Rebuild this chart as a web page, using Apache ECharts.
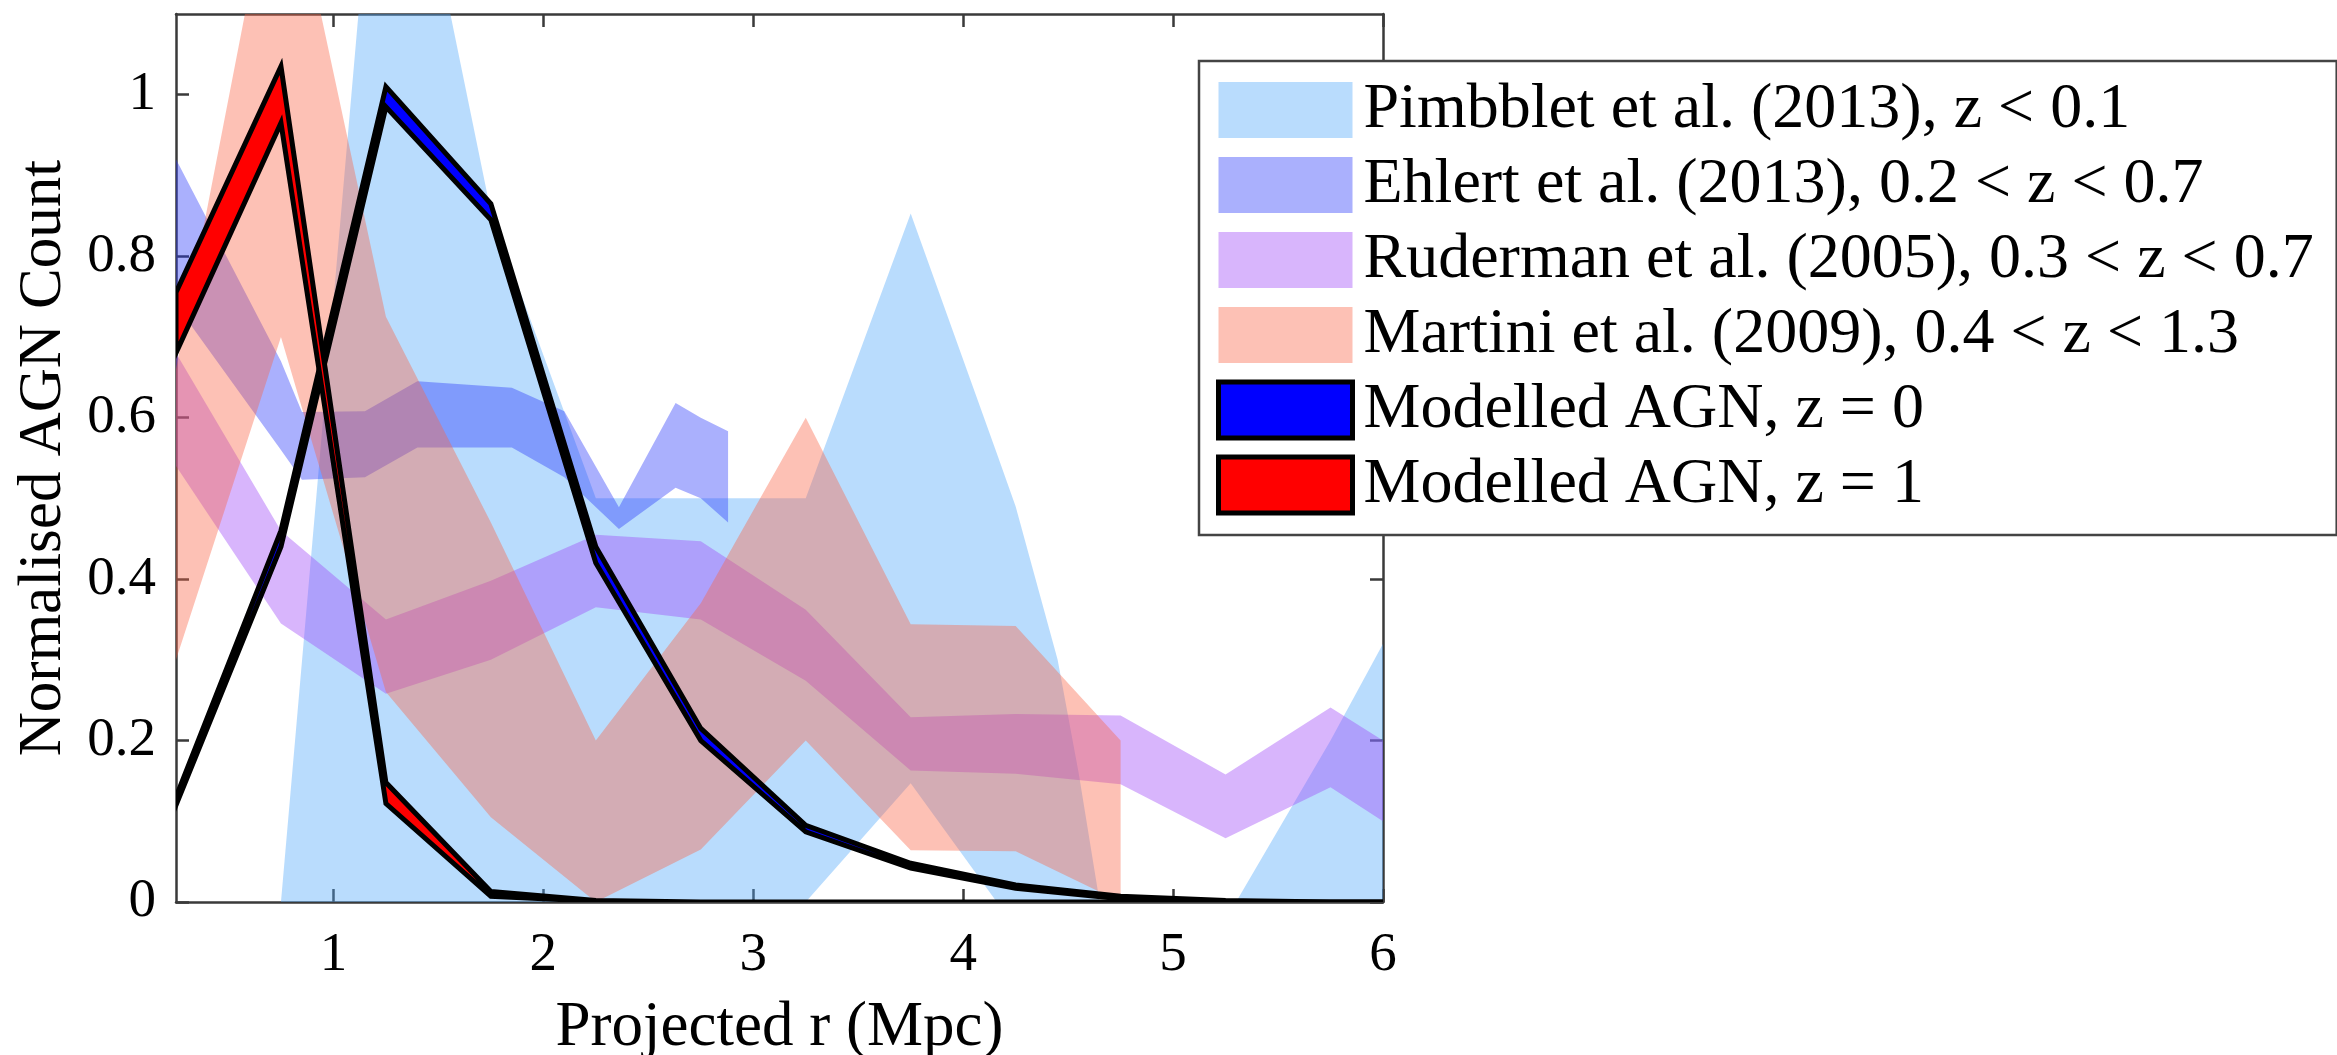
<!DOCTYPE html>
<html>
<head>
<meta charset="utf-8">
<script src="https://cdn.jsdelivr.net/npm/echarts@6/dist/echarts.min.js"></script>
<style>
  html, body { margin: 0; padding: 0; background: #ffffff; font-family: 'Liberation Serif', serif; }
  #chart { width: 2337px; height: 1055px; }
</style>
</head>
<body>
<div id="chart"></div>
<script>
// Projected radius (Mpc) with lower / upper envelopes of the normalised AGN count.

// Pimbblet et al. (2013), z < 0.1
const pimbbletR    = [0.75, 1.25, 1.75, 2.25, 2.75, 3.25, 3.75, 4.16, 4.25, 4.45, 4.55, 4.65, 5.3, 5.75, 6.0];
const pimbbletLow  = [0,    0,    0,    0,    0,    0,    0.147, 0,   0,    0,    0,    0,    0,   0,    0];
const pimbbletHigh = [0,    1.49, 0.855, 0.5, 0.5,  0.5,  0.853, 0.556, 0.49, 0.30, 0.16, 0,   0,   0.2,  0.32];

// Ehlert et al. (2013), 0.2 < z < 0.7
const ehlertR    = [0.25, 0.75, 0.85, 1.15, 1.4, 1.85, 2.1, 2.36, 2.63, 2.75, 2.88];
const ehlertLow  = [0.74, 0.56, 0.523, 0.526, 0.563, 0.563, 0.526, 0.462, 0.513, 0.50, 0.47];
const ehlertHigh = [0.92, 0.67, 0.607, 0.608, 0.645, 0.637, 0.608, 0.489, 0.618, 0.60, 0.583];

// Ruderman et al. (2005), 0.3 < z < 0.7
const rudermanR    = [0.25, 0.75, 1.25, 1.75, 2.25, 2.75, 3.25, 3.75, 4.25, 4.75, 5.25, 5.75, 6.0];
const rudermanLow  = [0.54, 0.345, 0.258, 0.30, 0.365, 0.35, 0.274, 0.163, 0.159, 0.146, 0.079, 0.142, 0.10];
const rudermanHigh = [0.68, 0.46, 0.35, 0.398, 0.455, 0.447, 0.362, 0.229, 0.233, 0.231, 0.158, 0.241, 0.20];

// Martini et al. (2009), 0.4 < z < 1.3
const martiniR    = [0.25, 0.75, 1.25, 1.75, 2.25, 2.75, 3.25, 3.75, 4.25, 4.75];
const martiniLow  = [0.30, 0.70, 0.26, 0.105, 0.0, 0.065, 0.20, 0.064, 0.063, 0.0];
const martiniHigh = [0.66, 1.33, 0.725, 0.47, 0.20, 0.37, 0.60, 0.344, 0.342, 0.20];

// Modelled AGN, z = 0
const modelR      = [0.25, 0.75, 1.25, 1.75, 2.25, 2.75, 3.25, 3.75, 4.25, 4.75, 5.25, 5.75, 6.0];
const modelZ0Low  = [0.12, 0.44, 0.985, 0.845, 0.42, 0.20, 0.087, 0.042, 0.017, 0.004, 0.001, 0, 0];
const modelZ0High = [0.13, 0.46, 1.01, 0.865, 0.44, 0.215, 0.095, 0.048, 0.021, 0.007, 0.002, 0, 0];

// Modelled AGN, z = 1
const modelZ1Low  = [0.68, 0.965, 0.122, 0.007, 0.001, 0, 0, 0, 0, 0, 0, 0, 0];
const modelZ1High = [0.755, 1.035, 0.148, 0.013, 0.002, 0, 0, 0, 0, 0, 0, 0, 0];

// Axis ticks
const xTicks = [1, 2, 3, 4, 5, 6];
const yTicks = [0, 0.2, 0.4, 0.6, 0.8, 1];

const FONT = 'Liberation Serif';
const AXIS_COLOR = '#3a3a3a';
const TEXT_COLOR = '#000';

// A shaded envelope: upper edge left-to-right, then lower edge back.
function band(name, xs, lo, hi, fill, stroke, lineWidth, z) {
  return {
    type: 'custom',
    name: name,
    coordinateSystem: 'cartesian2d',
    clip: true,
    z: z,
    silent: true,
    itemStyle: { color: fill },
    data: [[xs[0], lo[0]]],
    renderItem: function (params, api) {
      const pts = [];
      for (let i = 0; i < xs.length; i++) pts.push(api.coord([xs[i], hi[i]]));
      for (let i = xs.length - 1; i >= 0; i--) pts.push(api.coord([xs[i], lo[i]]));
      return {
        type: 'polygon',
        shape: { points: pts },
        style: {
          fill: fill,
          stroke: stroke || null,
          lineWidth: stroke ? lineWidth : 0,
          lineJoin: 'miter'
        }
      };
    }
  };
}

const names = [
  'Pimbblet et al. (2013), z < 0.1',
  'Ehlert et al. (2013), 0.2 < z < 0.7',
  'Ruderman et al. (2005), 0.3 < z < 0.7',
  'Martini et al. (2009), 0.4 < z < 1.3',
  'Modelled AGN, z = 0',
  'Modelled AGN, z = 1'
];

const chart = echarts.init(document.getElementById('chart'), null, { renderer: 'canvas' });

const tickLabel = { fontFamily: FONT, fontSize: 55, color: TEXT_COLOR };

chart.setOption({
  animation: false,
  backgroundColor: '#ffffff',
  textStyle: { fontFamily: FONT },
  grid: { left: 176, right: 954, top: 14, bottom: 153, containLabel: false, outerBoundsMode: 'none' },
  xAxis: [
    {
      type: 'value', min: 0.25, max: 6, position: 'bottom',
      name: 'Projected r (Mpc)', nameLocation: 'middle', nameGap: 95,
      nameTextStyle: { fontFamily: FONT, fontSize: 63, color: TEXT_COLOR },
      axisLine: { show: true, lineStyle: { color: AXIS_COLOR, width: 2.5 } },
      axisTick: { show: true, inside: true, length: 13, customValues: xTicks, lineStyle: { color: AXIS_COLOR, width: 2.5 } },
      axisLabel: Object.assign({ margin: 26, customValues: xTicks, formatter: v => String(v) }, tickLabel),
      splitLine: { show: false }
    },
    {
      type: 'value', min: 0.25, max: 6, position: 'top',
      axisLine: { show: true, onZero: false, lineStyle: { color: AXIS_COLOR, width: 2.5 } },
      axisTick: { show: true, inside: true, length: 13, customValues: xTicks, lineStyle: { color: AXIS_COLOR, width: 2.5 } },
      axisLabel: { show: false },
      splitLine: { show: false }
    }
  ],
  yAxis: [
    {
      type: 'value', min: 0, max: 1.1, position: 'left',
      name: 'Normalised AGN Count', nameLocation: 'middle', nameGap: 102, nameRotate: 90,
      nameTextStyle: { fontFamily: FONT, fontSize: 61, color: TEXT_COLOR },
      axisLine: { show: true, lineStyle: { color: AXIS_COLOR, width: 2.5 } },
      axisTick: { show: true, inside: true, length: 13, customValues: yTicks, lineStyle: { color: AXIS_COLOR, width: 2.5 } },
      axisLabel: Object.assign({ margin: 20, customValues: yTicks, formatter: v => String(+v.toFixed(1)) }, tickLabel),
      splitLine: { show: false }
    },
    {
      type: 'value', min: 0, max: 1.1, position: 'right',
      axisLine: { show: true, onZero: false, lineStyle: { color: AXIS_COLOR, width: 2.5 } },
      axisTick: { show: true, inside: true, length: 13, customValues: yTicks, lineStyle: { color: AXIS_COLOR, width: 2.5 } },
      axisLabel: { show: false },
      splitLine: { show: false }
    }
  ],
  legend: {
    orient: 'vertical',
    left: 1199, top: 61,
    padding: [17, 23, 18, 17],
    itemWidth: 134, itemHeight: 56, itemGap: 11,
    backgroundColor: '#ffffff',
    borderColor: '#444', borderWidth: 2.5,
    selectedMode: false,
    textStyle: { fontFamily: FONT, fontSize: 64, color: TEXT_COLOR, lineHeight: 56, padding: [0, 0, 0, 6] },
    data: [
      { name: names[0], icon: 'rect', itemStyle: { color: '#b9dcfd', borderWidth: 0 } },
      { name: names[1], icon: 'rect', itemStyle: { color: '#aab0fd', borderWidth: 0 } },
      { name: names[2], icon: 'rect', itemStyle: { color: '#d8b5fc', borderWidth: 0 } },
      { name: names[3], icon: 'rect', itemStyle: { color: '#fdc1b5', borderWidth: 0 } },
      { name: names[4], icon: 'rect', itemStyle: { color: '#0000ff', borderColor: '#000', borderWidth: 5 } },
      { name: names[5], icon: 'rect', itemStyle: { color: '#ff0000', borderColor: '#000', borderWidth: 5 } }
    ]
  },
  series: [
    band(names[0], pimbbletR, pimbbletLow, pimbbletHigh, 'rgba(80,168,250,0.4)', null, 0, 1),
    band(names[1], ehlertR, ehlertLow, ehlertHigh, 'rgba(43,58,250,0.4)', null, 0, 2),
    band(names[2], rudermanR, rudermanLow, rudermanHigh, 'rgba(158,70,248,0.4)', null, 0, 3),
    band(names[3], martiniR, martiniLow, martiniHigh, 'rgba(250,100,70,0.4)', null, 0, 4),
    band(names[4], modelR, modelZ0Low, modelZ0High, '#0000ff', '#000000', 5, 5),
    band(names[5], modelR, modelZ1Low, modelZ1High, '#ff0000', '#000000', 5, 6)
  ]
});
</script>
</body>
</html>
